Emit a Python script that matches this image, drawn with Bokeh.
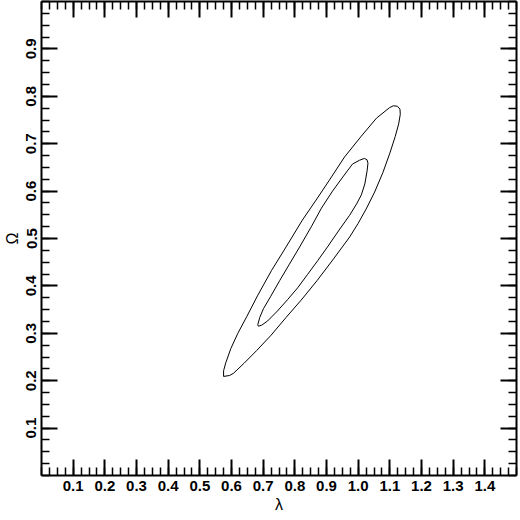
from bokeh.plotting import figure
from bokeh.models import Range1d, FixedTicker, LinearAxis, NumeralTickFormatter
from bokeh.embed import file_html
from bokeh.resources import INLINE

# Outer contour (lambda, Omega)
outer_lam = [0.575, 0.594, 0.607, 0.640, 0.680, 0.725, 0.773, 0.820, 0.870, 0.920,
             0.973, 1.000, 1.025, 1.052, 1.078, 1.100, 1.117, 1.128, 1.133, 1.132,
             1.124, 1.111, 1.099, 1.058, 1.010, 0.957, 0.909, 0.865, 0.824, 0.774,
             0.726, 0.682, 0.648, 0.620, 0.598, 0.582, 0.575, 0.575]
outer_om = [0.209, 0.211, 0.216, 0.237, 0.264, 0.296, 0.334, 0.370, 0.411, 0.455,
            0.503, 0.532, 0.562, 0.598, 0.639, 0.680, 0.715, 0.742, 0.762, 0.773,
            0.779, 0.780, 0.776, 0.754, 0.716, 0.672, 0.623, 0.579, 0.539, 0.484,
            0.432, 0.379, 0.335, 0.300, 0.268, 0.238, 0.221, 0.209]

# Inner contour (lambda, Omega)
inner_lam = [1.020, 1.004, 0.982, 0.954, 0.919, 0.884, 0.853, 0.815, 0.783, 0.752,
             0.723, 0.701, 0.689, 0.683, 0.685, 0.695, 0.714, 0.745, 0.777, 0.809,
             0.840, 0.872, 0.905, 0.940, 0.973, 0.995, 1.010, 1.021, 1.028, 1.031,
             1.028, 1.020]
inner_om = [0.669, 0.665, 0.657, 0.632, 0.600, 0.564, 0.526, 0.482, 0.446, 0.411,
            0.377, 0.352, 0.333, 0.318, 0.315, 0.317, 0.326, 0.347, 0.371, 0.396,
            0.424, 0.453, 0.484, 0.518, 0.549, 0.573, 0.592, 0.615, 0.642, 0.659,
            0.666, 0.669]

# Axis ticks
x_major = [0.1, 0.2, 0.3, 0.4, 0.5, 0.6, 0.7, 0.8, 0.9, 1.0, 1.1, 1.2, 1.3, 1.4]
x_minor = [round(0.025 * k, 3) for k in range(0, 61)]
y_major = [0.1, 0.2, 0.3, 0.4, 0.5, 0.6, 0.7, 0.8, 0.9]
y_minor = [round(0.025 * k, 3) for k in range(0, 41)]
x_limits = [0.0, 1.5]
y_limits = [0.0, 1.0]

FONT = "Liberation Sans"

p = figure(
    frame_width=475, frame_height=474,
    min_border_left=34, min_border_top=1, min_border_right=3, min_border_bottom=37,
    x_range=Range1d(*x_limits), y_range=Range1d(*y_limits),
    output_backend="svg", toolbar_location=None,
    x_axis_location=None, y_axis_location=None,
    background_fill_color="white", border_fill_color="white",
)
p.grid.visible = False
p.outline_line_color = None

def style(ax, ticks, labels=True):
    ax.axis_line_width = 2
    ax.axis_line_color = "black"
    ax.major_tick_in = 16
    ax.major_tick_out = 0
    ax.minor_tick_in = 8
    ax.minor_tick_out = 0
    ax.major_tick_line_width = 2
    ax.minor_tick_line_width = 1.5
    ax.major_tick_line_color = "black"
    ax.minor_tick_line_color = "black"
    if labels:
        ax.formatter = NumeralTickFormatter(format="0.0")
        ax.major_label_text_font = FONT
        ax.major_label_text_font_style = "bold"
        ax.major_label_text_font_size = "15px"
        ax.major_label_text_color = "black"
        ax.major_label_standoff = 5
        ax.axis_label_text_font = FONT
        ax.axis_label_text_font_style = "normal"
        ax.axis_label_text_font_size = "16px"
        ax.axis_label_text_color = "black"
    else:
        ax.major_label_overrides = {t: "" for t in ticks}
        ax.major_label_standoff = 0

xb = LinearAxis(ticker=FixedTicker(ticks=x_major, minor_ticks=x_minor), axis_label="λ")
style(xb, x_major)
xb.axis_label_standoff = 2
p.add_layout(xb, "below")

xt = LinearAxis(ticker=FixedTicker(ticks=x_major, minor_ticks=x_minor))
style(xt, x_major, labels=False)
p.add_layout(xt, "above")

yl = LinearAxis(ticker=FixedTicker(ticks=y_major, minor_ticks=y_minor), axis_label="Ω")
style(yl, y_major)
yl.major_label_orientation = "vertical"
yl.axis_label_standoff = 3
p.add_layout(yl, "left")

yr = LinearAxis(ticker=FixedTicker(ticks=y_major, minor_ticks=y_minor))
style(yr, y_major, labels=False)
p.add_layout(yr, "right")

p.line(outer_lam, outer_om, line_color="black", line_width=1)
p.line(inner_lam, inner_om, line_color="black", line_width=1)

open("out.html", "w").write(file_html(p, INLINE))
